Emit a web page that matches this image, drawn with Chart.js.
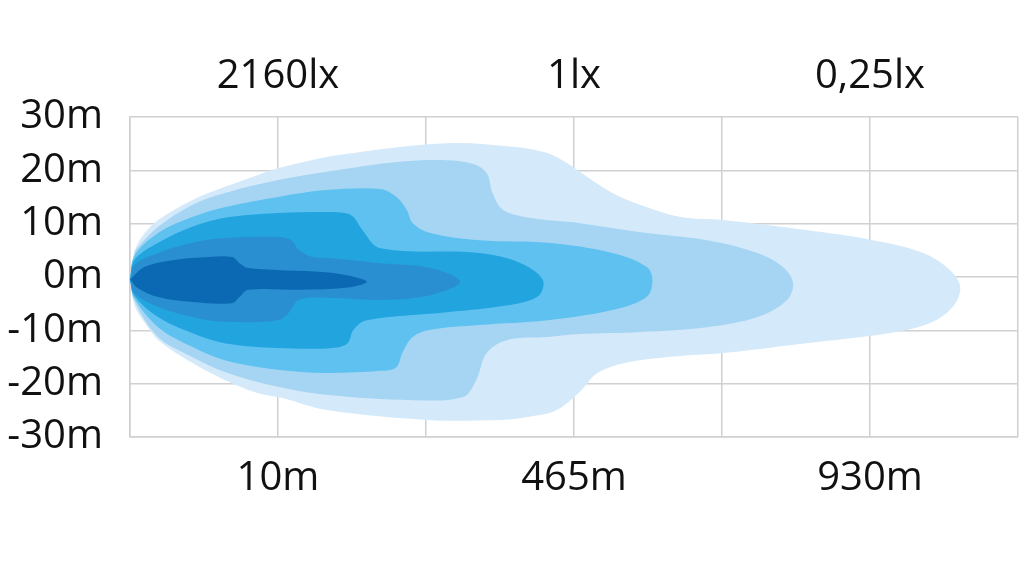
<!DOCTYPE html>
<html lang="en">
<head>
  <meta charset="UTF-8" />
  <title>Beam pattern</title>
  <script src="https://cdn.jsdelivr.net/npm/chart.js"></script>
  <style>
    html, body {
      margin: 0;
      padding: 0;
      background: #fff;
      overflow: hidden;
    }
    canvas {
      display: block;
    }
  </style>
</head>
<body>
  <canvas id="beamChart" width="1024" height="571"></canvas>

  <script>
    // x is in grid cells (0..6), y is lateral distance in metres
    const bottomLabels = ["", "10m", "", "465m", "", "930m", ""];
    const topLabels = ["", "2160lx", "", "1lx", "", "0,25lx", ""];

    // outline of each lux zone, traced from the beam nose round the top and back along the bottom
    const zone1 = [[0, -0.5], [0.034, 5.1], [0.1, 8.25], [0.19, 10.7], [0.42, 14.4], [0.64, 16.9], [0.86, 19.1],
      [1.0, 20.4], [1.42, 22.9], [2.14, 25.1], [2.59, 24.4], [2.82, 23.25], [2.95, 21.4], [3.09, 18.75],
      [3.26, 15.75], [3.45, 13.5], [3.72, 11.25], [4.01, 10.7], [4.57, 8.8], [5.02, 6.9], [5.36, 4.5],
      [5.54, 1.3], [5.61, -1.9], [5.56, -5.6], [5.41, -8.6], [5.14, -10.5], [4.57, -12.4], [4.01, -14.25],
      [3.72, -14.8], [3.38, -15.9], [3.16, -18], [3.04, -21.5], [2.88, -25], [2.7, -26.2], [2.5, -26.8],
      [2.01, -26.8], [1.32, -24.9], [1.03, -22.7], [0.86, -21.75], [0.64, -19.3], [0.42, -16.1], [0.19, -11.8],
      [0.1, -8.6], [0.034, -5.6], [0, -0.5]];
    const zone2 = [[0, -0.5], [0.03, 4.5], [0.054, 5.6], [0.19, 9.4], [0.42, 13.5], [0.64, 15.75], [1.0, 18.2],
      [1.32, 19.7], [1.82, 21.6], [2.14, 21.9], [2.32, 21.2], [2.41, 19.5], [2.45, 15.75], [2.52, 12.6],
      [2.7, 11.1], [3.04, 10.1], [3.45, 8.4], [3.9, 6.9], [4.24, 4.5], [4.41, 1.9], [4.48, -1.1], [4.44, -4.3],
      [4.24, -7.5], [3.9, -9.4], [3.45, -10.3], [3.04, -10.7], [2.82, -11.25], [2.55, -11.8], [2.41, -14.25],
      [2.34, -19.3], [2.25, -22.5], [1.91, -23.1], [1.32, -22.1], [1.0, -20.6], [0.64, -17.8], [0.42, -15],
      [0.19, -11.25], [0.03, -4.5], [0, -0.5]];
    const zone3 = [[0, -0.5], [0.03, 4], [0.19, 8.25], [0.42, 11.25], [0.64, 13.1], [1.0, 15], [1.32, 16.3],
      [1.69, 16.5], [1.8, 15], [1.87, 12.6], [1.91, 10.1], [2.03, 8.25], [2.36, 6.9], [2.82, 6.4], [3.26, 4.5],
      [3.49, 1.9], [3.53, -0.6], [3.49, -3.75], [3.26, -6.2], [2.82, -8.1], [2.36, -9], [2.03, -9.9],
      [1.91, -11.25], [1.84, -14.25], [1.8, -16.9], [1.69, -17.6], [1.32, -18], [1.0, -17.4], [0.64, -15.6],
      [0.42, -13.1], [0.19, -9.4], [0.03, -4], [0, -0.5]];
    const zone4 = [[0, -0.5], [0.03, 3.2], [0.19, 6.4], [0.42, 9.4], [0.64, 11.1], [1.0, 12], [1.32, 12.2],
      [1.45, 12], [1.51, 11.25], [1.57, 8.8], [1.69, 5.4], [2.36, 4.5], [2.64, 2.6], [2.79, -0.6], [2.75, -3.75],
      [2.48, -5.6], [2.14, -6.6], [1.6, -8.1], [1.51, -9.9], [1.47, -12.4], [1.37, -13.3], [1.0, -13.3],
      [0.64, -12.4], [0.42, -10.5], [0.19, -7.5], [0.03, -3.5], [0, -0.5]];
    const zone5 = [[0, -0.5], [0.03, 2.3], [0.19, 4.5], [0.42, 6.4], [0.64, 7.3], [1.0, 7.5], [1.09, 6.9],
      [1.14, 5.1], [1.23, 3.75], [1.32, 3.6], [1.69, 2.6], [2.03, 1.7], [2.23, -0.9], [2.03, -3.4], [1.69, -4.3],
      [1.32, -3.9], [1.14, -4.3], [1.07, -6.75], [1.0, -8.1], [0.64, -8.4], [0.42, -7.5], [0.19, -5.6],
      [0.03, -3], [0, -0.5]];
    const zone6 = [[0, -0.5], [0.1, 1.9], [0.3, 3.2], [0.53, 3.75], [0.69, 3.75], [0.74, 2.6], [0.8, 1.7],
      [1.32, 0.9], [1.49, 0.2], [1.6, -0.9], [1.49, -1.9], [1.15, -2.4], [0.8, -2.4], [0.74, -3.75], [0.69, -4.9],
      [0.42, -4.7], [0.19, -3.75], [0.054, -2.1], [0, -0.5]];

    const zones = [zone1, zone2, zone3, zone4, zone5, zone6];
    const zoneColors = ["#d4eafa", "#a6d5f3", "#5ec1ef", "#22a4de", "#2a8fd0", "#0b69b4"];

    const labelFont = { family: "'Open Sans', 'Noto Sans', sans-serif", size: 40 };
    const gridColor = "#d0d0d0";

    // Chart.js paints dataset 0 last, so the innermost zone goes first
    const datasets = zones.map((zone, i) => ({
      data: zone.map(p => ({ x: p[0], y: p[1] })),
      showLine: true,
      fill: "shape",
      tension: 0.35,
      backgroundColor: zoneColors[i],
      borderWidth: 0,
      pointRadius: 0,
      pointHoverRadius: 0
    })).reverse();

    const noSidePadding = s => {
      s.paddingLeft = 0;
      s.paddingRight = 0;
    };

    new Chart(document.getElementById("beamChart"), {
      type: "scatter",
      data: { datasets },
      options: {
        responsive: false,
        animation: false,
        layout: { padding: { right: 6 } },
        plugins: {
          legend: { display: false },
          tooltip: { enabled: false }
        },
        scales: {
          x: {
            type: "linear",
            position: "bottom",
            min: 0,
            max: 6,
            ticks: {
              stepSize: 1,
              autoSkip: false,
              maxRotation: 0,
              padding: 18,
              color: "#111",
              font: labelFont,
              callback: v => bottomLabels[v] || ""
            },
            grid: { color: gridColor, lineWidth: 1.5, drawTicks: false },
            border: { color: gridColor, width: 1.5 },
            afterFit: s => { s.height = 134; noSidePadding(s); }
          },
          x2: {
            type: "linear",
            position: "top",
            min: 0,
            max: 6,
            ticks: {
              stepSize: 1,
              autoSkip: false,
              maxRotation: 0,
              padding: 16,
              color: "#111",
              font: labelFont,
              callback: v => topLabels[v] || ""
            },
            grid: { display: false, drawTicks: false },
            border: { display: false },
            afterFit: s => { s.height = 117; noSidePadding(s); }
          },
          y: {
            min: -30,
            max: 30,
            ticks: {
              stepSize: 10,
              padding: 27,
              color: "#111",
              font: labelFont,
              callback: v => v + "m"
            },
            grid: { color: gridColor, lineWidth: 1.5, drawTicks: false },
            border: { color: gridColor, width: 1.5 },
            afterFit: s => { s.width = 130; }
          }
        }
      }
    });
  </script>
</body>
</html>
